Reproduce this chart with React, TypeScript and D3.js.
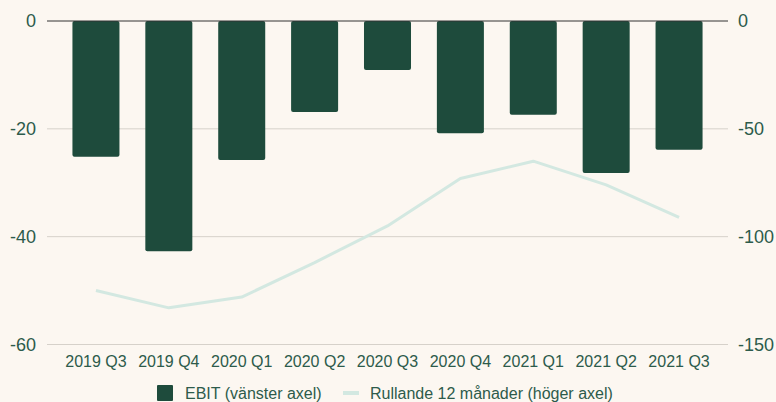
import React from "react";
import * as d3 from "d3";

const quarters = [
  "2019 Q3",
  "2019 Q4",
  "2020 Q1",
  "2020 Q2",
  "2020 Q3",
  "2020 Q4",
  "2021 Q1",
  "2021 Q2",
  "2021 Q3",
];
const ebit = [-25.2, -42.7, -25.8, -16.9, -9.1, -20.8, -17.4, -28.2, -23.9];
const rolling12 = [-125, -133, -128, -112, -95, -73, -65, -76, -91];
const leftTicks = [0, -20, -40, -60];
const rightTicks = [0, -50, -100, -150];

const legendLabels = ["EBIT (vänster axel)", "Rullande 12 månader (höger axel)"];

function Chart() {
  const width = 776;
  const height = 402;
  const top = 21;
  const bottom = 344.5;
  const gridLeft = 47;
  const gridRight = 728;

  const bg = "#fcf7f1";
  const barColor = "#1e4b3c";
  const lineColor = "#d3e8e1";
  const textColor = "#2d5b4b";
  const font = "Liberation Sans, Arial, sans-serif";

  const x = d3
    .scaleBand()
    .domain(quarters)
    .range([59.5, 715.5])
    .paddingInner(0.355)
    .paddingOuter(0.1775);
  const yLeft = d3.scaleLinear().domain([0, -60]).range([top, bottom]);
  const yRight = d3.scaleLinear().domain([0, -150]).range([top, bottom]);

  const line = d3
    .line<number>()
    .x((_, i) => x(quarters[i])! + x.bandwidth() / 2)
    .y((d) => yRight(d));

  return (
    <svg
      width={width}
      height={height}
      style={{ position: "absolute", left: 0, top: 0, background: bg }}
      fontFamily={font}
    >
      <rect width={width} height={height} fill={bg} />

      {leftTicks.slice(1).map((t) => (
        <line
          key={t}
          x1={gridLeft}
          x2={gridRight}
          y1={yLeft(t)}
          y2={yLeft(t)}
          stroke="#d6d1ca"
          strokeWidth={1}
        />
      ))}

      {ebit.map((v, i) => (
        <rect
          key={i}
          x={x(quarters[i])}
          y={yLeft(0)}
          width={x.bandwidth()}
          height={yLeft(v) - yLeft(0)}
          rx={2}
          fill={barColor}
        />
      ))}

      <line
        x1={gridLeft}
        x2={gridRight}
        y1={yLeft(0)}
        y2={yLeft(0)}
        stroke="#333"
        strokeWidth={1}
      />

      <path
        d={line(rolling12) ?? ""}
        fill="none"
        stroke={lineColor}
        strokeWidth={3}
        strokeLinejoin="round"
      />

      {leftTicks.map((t) => (
        <text
          key={t}
          x={36}
          y={yLeft(t)}
          dy="0.35em"
          textAnchor="end"
          fontSize={18}
          fill={textColor}
        >
          {t}
        </text>
      ))}

      {rightTicks.map((t) => (
        <text
          key={t}
          x={738}
          y={yRight(t)}
          dy="0.35em"
          textAnchor="start"
          fontSize={18}
          fill={textColor}
        >
          {t}
        </text>
      ))}

      {quarters.map((q) => (
        <text
          key={q}
          x={x(q)! + x.bandwidth() / 2}
          y={361}
          dy="0.35em"
          textAnchor="middle"
          fontSize={16}
          fill={textColor}
        >
          {q}
        </text>
      ))}

      <g>
        <rect x={157} y={385} width={16} height={16} rx={1} fill={barColor} />
        <text x={185} y={393} dy="0.35em" fontSize={16} fill={textColor}>
          {legendLabels[0]}
        </text>
        <rect x={343} y={391} width={16} height={4} fill={lineColor} />
        <text x={370} y={393} dy="0.35em" fontSize={16} fill={textColor}>
          {legendLabels[1]}
        </text>
      </g>
    </svg>
  );
}

export default function App() {
  return <Chart />;
}
